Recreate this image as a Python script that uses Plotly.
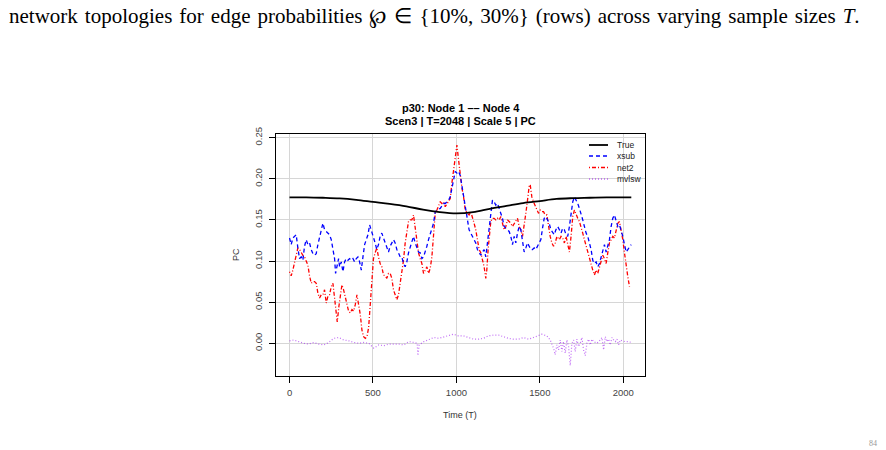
import plotly.graph_objects as go

# ---------------- data ----------------
t_true = [0, 100, 200, 300, 400, 500, 600, 700, 800, 900, 1000, 1100, 1200,
          1300, 1400, 1500, 1600, 1700, 1800, 1900, 2048]
v_true = [0.1775, 0.1775, 0.177, 0.1762, 0.1745, 0.172, 0.1695, 0.1665, 0.1625,
          0.1595, 0.158, 0.1595, 0.1635, 0.167, 0.1705, 0.173, 0.1755, 0.1765,
          0.177, 0.1775, 0.1775]

t_xsub = (list(range(0, 271, 10)) + [276, 284, 294] + list(range(300, 481, 10))
          + list(range(503, 1054, 10)) + list(range(1066, 1597, 10))
          + list(range(1607, 2048, 10)))
v_xsub = [
    0.128, 0.120, 0.128, 0.130, 0.132, 0.116, 0.103, 0.105, 0.101, 0.118,
    0.126, 0.120, 0.122, 0.114, 0.109, 0.107, 0.109, 0.120, 0.130, 0.140,
    0.146, 0.138, 0.136, 0.134, 0.132, 0.126, 0.114, 0.103,
    0.085, 0.095, 0.103,
    0.093, 0.099, 0.087, 0.099, 0.103, 0.101, 0.103, 0.101, 0.103, 0.099,
    0.103, 0.105, 0.099, 0.089, 0.105, 0.120, 0.126, 0.132, 0.144,
    0.130, 0.122, 0.114, 0.120, 0.130, 0.134, 0.128, 0.122, 0.116, 0.111,
    0.118, 0.122, 0.126, 0.122, 0.114, 0.110, 0.105, 0.105, 0.097, 0.093,
    0.099, 0.110, 0.116, 0.122, 0.130, 0.122, 0.116, 0.111, 0.110, 0.103,
    0.105, 0.111, 0.118, 0.126, 0.132, 0.140, 0.146, 0.160, 0.162, 0.163,
    0.164, 0.168, 0.170, 0.170, 0.172, 0.174, 0.178, 0.189, 0.199, 0.209,
    0.207, 0.209, 0.204, 0.191, 0.178, 0.166,
    0.150, 0.138, 0.134, 0.130, 0.126, 0.122, 0.114, 0.111, 0.107, 0.111,
    0.114, 0.105, 0.122, 0.142, 0.162, 0.174, 0.172, 0.168, 0.170, 0.164,
    0.158, 0.152, 0.142, 0.140, 0.138, 0.136, 0.130, 0.120, 0.130, 0.122,
    0.134, 0.142, 0.138, 0.126, 0.111, 0.116, 0.122, 0.118, 0.114, 0.114,
    0.116, 0.114, 0.118, 0.120, 0.126, 0.140, 0.152, 0.154, 0.150, 0.146,
    0.138, 0.134, 0.132, 0.138,
    0.142, 0.138, 0.134, 0.140, 0.138, 0.132, 0.130, 0.142, 0.160, 0.172,
    0.178, 0.174, 0.170, 0.164, 0.158, 0.150, 0.142, 0.134, 0.130, 0.122,
    0.114, 0.101, 0.097, 0.099, 0.093, 0.097, 0.105, 0.114, 0.120, 0.111,
    0.118, 0.126, 0.142, 0.152, 0.156, 0.150, 0.142, 0.144, 0.138, 0.130,
    0.120, 0.111, 0.114, 0.118, 0.120]

t_net2 = [0, 10, 20, 30, 40, 50, 60, 70, 80, 90, 100, 110, 120, 130, 140, 150,
          160, 170, 180, 190, 200, 210, 220, 230, 240, 250, 260, 270, 280, 286,
          296, 304, 314, 324, 334, 344, 354, 364, 374, 384, 394, 404, 414, 424,
          434, 444, 454, 464, 474, 484,
          493, 503, 513, 523, 533, 543, 553, 563, 573, 583, 593, 603, 613, 623,
          633, 643, 653, 663, 673, 683, 693, 703, 713, 723, 733, 743, 753, 763,
          773, 783, 793, 803, 813, 823, 833, 843, 853, 863, 873, 883, 893, 903,
          913, 923, 933, 943, 953, 963, 973, 983, 993, 1003, 1013, 1023, 1033,
          1043, 1053,
          1066, 1076, 1086, 1096, 1106, 1116, 1126, 1136, 1146, 1156, 1166,
          1176, 1182, 1190, 1198, 1206, 1216, 1226, 1236, 1246, 1256, 1266,
          1276, 1286, 1296, 1306, 1316, 1326, 1336, 1346, 1356, 1366, 1376,
          1386, 1396, 1406, 1416, 1426, 1436, 1442, 1452, 1462, 1472, 1482,
          1492, 1502, 1512, 1522, 1532, 1542, 1552, 1562, 1572, 1582, 1592,
          1602,
          1617, 1627, 1637, 1647, 1657, 1667, 1677, 1687, 1697, 1707, 1717,
          1727, 1737, 1747, 1757, 1767, 1777, 1787, 1797, 1807, 1817, 1827,
          1837, 1847, 1857, 1867, 1877, 1887, 1897, 1907, 1917, 1927, 1937,
          1947, 1957, 1967, 1977, 1987, 1997, 2007, 2017, 2027, 2037]
v_net2 = [
    0.087, 0.082, 0.089, 0.097, 0.105, 0.116, 0.114, 0.110, 0.107, 0.105,
    0.099, 0.095, 0.082, 0.073, 0.075, 0.075, 0.073, 0.061, 0.055, 0.059,
    0.059, 0.065, 0.049, 0.057, 0.059, 0.069, 0.073, 0.057, 0.041, 0.026,
    0.045, 0.057, 0.071, 0.065, 0.055, 0.049, 0.039, 0.037, 0.041, 0.039,
    0.047, 0.059, 0.047, 0.035, 0.016, 0.008, 0.006, 0.008, 0.019, 0.049,
    0.083, 0.103, 0.110, 0.116, 0.105, 0.097, 0.093, 0.083, 0.082, 0.079,
    0.085, 0.085, 0.079, 0.065, 0.059, 0.053, 0.059, 0.073, 0.089, 0.101,
    0.122, 0.136, 0.148, 0.150, 0.150, 0.156, 0.138, 0.122, 0.110, 0.103,
    0.097, 0.085, 0.089, 0.093, 0.085, 0.091, 0.105, 0.130, 0.158, 0.162,
    0.168, 0.172, 0.170, 0.172, 0.166, 0.170, 0.172, 0.176, 0.195, 0.211,
    0.227, 0.241, 0.223, 0.204, 0.189, 0.178, 0.162,
    0.158, 0.156, 0.160, 0.154, 0.146, 0.138, 0.126, 0.114, 0.110, 0.101,
    0.093, 0.079, 0.089, 0.114, 0.134, 0.148, 0.152, 0.152, 0.150, 0.152,
    0.150, 0.154, 0.146, 0.138, 0.142, 0.150, 0.148, 0.146, 0.142, 0.146,
    0.150, 0.152, 0.142, 0.138, 0.130, 0.142, 0.158, 0.174, 0.191, 0.193,
    0.178, 0.172, 0.168, 0.162, 0.158, 0.162, 0.160, 0.160, 0.156, 0.156,
    0.142, 0.130, 0.122, 0.118, 0.122, 0.130,
    0.126, 0.130, 0.128, 0.122, 0.130, 0.120, 0.111, 0.130, 0.154, 0.162,
    0.156, 0.152, 0.148, 0.142, 0.134, 0.126, 0.118, 0.110, 0.103, 0.097,
    0.089, 0.083, 0.089, 0.085, 0.093, 0.101, 0.107, 0.103, 0.097, 0.110,
    0.122, 0.126, 0.130, 0.128, 0.138, 0.146, 0.148, 0.138, 0.126, 0.110,
    0.093, 0.081, 0.069]

t_mvlsw = [0, 25, 55, 85, 115, 145, 175, 205, 235, 265, 295, 325, 355, 385,
           415, 445, 475, 505, 535, 565, 595, 625, 655, 685, 715, 745, 765,
           769, 777, 805, 835, 865, 895, 932, 962, 982, 1012, 1042, 1072, 1102,
           1132, 1162, 1192, 1222, 1252, 1282, 1312, 1342, 1372, 1402, 1432,
           1462, 1492, 1512, 1542, 1562, 1582, 1592, 1602, 1612, 1622, 1632,
           1642, 1652, 1662, 1672, 1682, 1692, 1702, 1712, 1722, 1732, 1742,
           1752, 1762, 1772, 1782, 1792, 1802, 1812, 1822, 1842, 1862, 1872,
           1882, 1892, 1902, 1912, 1922, 1932, 1942, 1952, 1962, 1972, 1982,
           1992, 2012, 2032, 2048]
v_mvlsw = [0.003, 0.004, 0.002, 0.000, -0.001, 0.001, -0.001, -0.002, 0.001,
           0.006, 0.007, 0.004, 0.003, 0.001, 0.000, 0.001, 0.000, -0.006,
           -0.002, -0.003, -0.001, -0.001, -0.001, -0.002, 0.002, 0.001, 0.000,
           -0.015, -0.002, 0.002, 0.005, 0.007, 0.006, 0.008, 0.009, 0.011,
           0.009, 0.009, 0.007, 0.005, 0.005, 0.006, 0.009, 0.010, 0.010, 0.008,
           0.006, 0.005, 0.005, 0.007, 0.005, 0.007, 0.009, 0.011, 0.009, 0.004,
           -0.006, -0.014, -0.002, -0.008, 0.004, -0.010, 0.002, -0.012, 0.004,
           -0.004, -0.027, 0.000, 0.004, -0.010, 0.005, -0.004, 0.000, 0.007,
           -0.008, -0.015, 0.000, 0.005, -0.002, 0.005, 0.002, 0.000, 0.004,
           0.007, -0.008, 0.008, 0.002, 0.005, -0.002, 0.007, 0.004, 0.002,
           0.005, -0.002, 0.004, 0.003, 0.002, 0.002, 0.001]

x_ticks = [0, 500, 1000, 1500, 2000]
y_ticks = [0.00, 0.05, 0.10, 0.15, 0.20, 0.25]
legend_names = ["True", "xsub", "net2", "mvlsw"]
caption_words = ["network", "topologies", "for", "edge", "probabilities", "℘", "∈",
                 "{10%,", "30%}", "(rows)", "across", "varying", "sample", "sizes",
                 "<i>T</i>."]

# ---------------- styling ----------------
W, H = 886, 450
L, R, T, B = 276, 645, 134, 376   # plot box in pixels
PW, PH = R - L, B - T


def px(x):
    return (x - L) / PW


def py(y):
    return (B - y) / PH


col_true, col_xsub, col_net2, col_mv = "black", "#0000FF", "#FF0000", "rgba(160,32,240,0.65)"
dash_xsub, dash_net2, dash_mv = "4px,3px", "1px,2px,4px,2px", "1px,2px"

fig = go.Figure()
fig.add_trace(go.Scatter(x=t_mvlsw, y=v_mvlsw, mode="lines",
                         line=dict(color=col_mv, width=1.2, dash=dash_mv)))
fig.add_trace(go.Scatter(x=t_net2, y=v_net2, mode="lines",
                         line=dict(color=col_net2, width=1.3, dash=dash_net2)))
fig.add_trace(go.Scatter(x=t_xsub, y=v_xsub, mode="lines",
                         line=dict(color=col_xsub, width=1.3, dash=dash_xsub)))
fig.add_trace(go.Scatter(x=t_true, y=v_true, mode="lines",
                         line=dict(color=col_true, width=1.8, shape="spline")))

font_sans = "Liberation Sans, Arial, Helvetica, sans-serif"

fig.update_layout(
    width=W, height=H, showlegend=False,
    margin=dict(l=L, r=W - R, t=T, b=H - B, pad=0),
    paper_bgcolor="white", plot_bgcolor="white",
    font=dict(family=font_sans, size=9.5, color="#444"),
    xaxis=dict(range=[-81, 2130], tickvals=x_ticks, ticktext=[str(v) for v in x_ticks],
               showgrid=True, gridcolor="#D6D6D6", gridwidth=1, zeroline=False,
               showline=True, mirror=True, linecolor="black", linewidth=1,
               ticks="outside", ticklen=6, tickcolor="black", tickwidth=1,
               ticklabelstandoff=2, tickfont=dict(size=9.5, color="#444")),
    yaxis=dict(range=[-0.0398, 0.2545], tickvals=y_ticks,
               ticktext=["%.2f" % v for v in y_ticks], tickangle=-90,
               showgrid=True, gridcolor="#D6D6D6", gridwidth=1, zeroline=False,
               showline=True, mirror=True, linecolor="black", linewidth=1,
               ticks="outside", ticklen=6, tickcolor="black", tickwidth=1,
               ticklabelstandoff=3, tickfont=dict(size=9.5, color="#444")),
)

ann = []
# caption from the page (justified line -> wider word spaces)
ann.append(dict(x=px(7), y=py(17), xref="paper", yref="paper", xanchor="left",
                yanchor="middle", showarrow=False,
                text="\u2004".join(caption_words),
                font=dict(family="Liberation Serif, Times New Roman, serif", size=21, color="black")))
# titles
ann.append(dict(x=0.5, y=py(108), xref="paper", yref="paper", showarrow=False,
                xanchor="center", yanchor="middle", text="<b>p30: Node 1 –– Node 4</b>",
                font=dict(family=font_sans, size=11, color="black")))
ann.append(dict(x=0.5, y=py(121), xref="paper", yref="paper", showarrow=False,
                xanchor="center", yanchor="middle",
                text="<b>Scen3 | T=2048 | Scale 5 | PC</b>",
                font=dict(family=font_sans, size=11, color="black")))
# axis titles
ann.append(dict(x=px(236), y=py(255), xref="paper", yref="paper", showarrow=False,
                textangle=-90, xanchor="center", yanchor="middle", text="PC",
                font=dict(family=font_sans, size=9, color="#333")))
ann.append(dict(x=px(460), y=py(415), xref="paper", yref="paper", showarrow=False,
                xanchor="center", yanchor="middle", text="Time (T)",
                font=dict(family=font_sans, size=9, color="#333")))
# page number at the bottom edge
ann.append(dict(x=px(873), y=py(443), xref="paper", yref="paper", showarrow=False,
                xanchor="center", yanchor="middle", text="84",
                font=dict(family="Liberation Serif, serif", size=8, color="#999")))

# legend (top right, no box)
leg_y = [145, 156, 167.5, 179]
leg_style = [(col_true, 1.8, "solid"), (col_xsub, 1.3, dash_xsub),
             (col_net2, 1.3, dash_net2), (col_mv, 1.3, dash_mv)]
shapes = []
for name, yy, (c, w, d) in zip(legend_names, leg_y, leg_style):
    shapes.append(dict(type="line", xref="paper", yref="paper",
                       x0=px(589), x1=px(608), y0=py(yy), y1=py(yy),
                       line=dict(color=c, width=w, dash=d)))
    ann.append(dict(x=px(615), y=py(yy), xref="paper", yref="paper", showarrow=False,
                    xanchor="left", yanchor="middle", text=name,
                    font=dict(family=font_sans, size=8.5, color="#222")))

fig.update_layout(annotations=ann, shapes=shapes)
fig.write_html("out.html")
